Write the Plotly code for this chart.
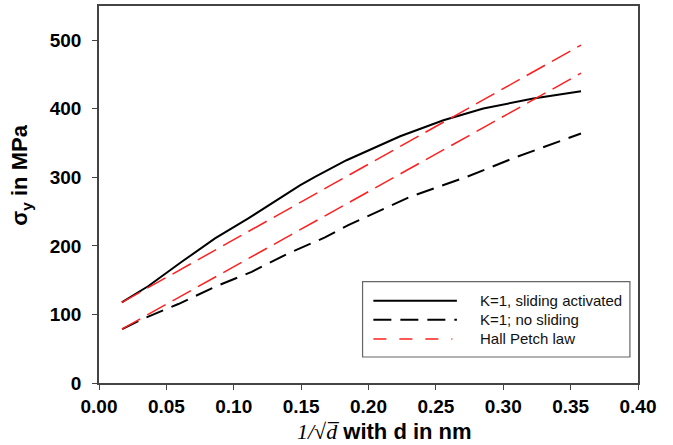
import plotly.graph_objects as go

# ---- data ----
solid_x = [0.0169, 0.0367, 0.0614, 0.0861, 0.1108, 0.1281, 0.1494, 0.1603, 0.1837,
           0.2235, 0.2556, 0.2852, 0.3223, 0.3577]
solid_y = [117.6, 141.5, 176.8, 210.9, 240.1, 262.0, 288.6, 300.7, 325.0,
           360.0, 383.4, 400.4, 415.0, 425.7]

dashed_x = [0.0172, 0.0317, 0.0589, 0.0861, 0.1133, 0.1405, 0.1677, 0.1850,
            0.2309, 0.2729, 0.3100, 0.3577]
dashed_y = [78.7, 92.9, 115.2, 140.4, 162.2, 189.1, 212.4, 230.3,
            271.6, 300.7, 329.9, 364.0]

hp_x = [0.0170, 0.3577]
hp_upper_y = [117.6, 493.0]
hp_lower_y = [78.7, 452.0]

series_names = ["K=1, sliding activated", "K=1; no sliding", "Hall Petch law"]
x_ticks = [0.00, 0.05, 0.10, 0.15, 0.20, 0.25, 0.30, 0.35, 0.40]
y_ticks = [0, 100, 200, 300, 400, 500]

RED = "#ff1f1f"
BLACK_DASH = "18px,9px"
RED_DASH = "21px,8px"
SANS = "Arial, Liberation Sans"

fig = go.Figure()
fig.add_trace(go.Scatter(x=solid_x, y=solid_y, mode="lines", name=series_names[0],
                         line=dict(color="black", width=2), showlegend=False))
fig.add_trace(go.Scatter(x=dashed_x, y=dashed_y, mode="lines", name=series_names[1],
                         line=dict(color="black", width=2, dash=BLACK_DASH), showlegend=False))
fig.add_trace(go.Scatter(x=hp_x, y=hp_upper_y, mode="lines", name=series_names[2],
                         line=dict(color=RED, width=1.5, dash=RED_DASH), showlegend=False))
fig.add_trace(go.Scatter(x=hp_x, y=hp_lower_y, mode="lines", name=series_names[2],
                         line=dict(color=RED, width=1.5, dash=RED_DASH), showlegend=False))

# ---- hand-drawn legend box (paper coordinates) ----
fig.add_shape(type="rect", xref="paper", yref="paper", x0=0.489, x1=0.985, y0=0.069, y1=0.269,
              line=dict(color="#666666", width=1.2), fillcolor="white", layer="above")
legend_rows = [0.218, 0.168, 0.117]
legend_styles = [dict(color="black", width=2),
                 dict(color="black", width=2, dash=BLACK_DASH),
                 dict(color=RED, width=1.5, dash="13px,13px,13px,13px,13px,13px,1px,40px")]
for name, yy, st in zip(series_names, legend_rows, legend_styles):
    fig.add_shape(type="line", xref="paper", yref="paper", x0=0.509, x1=0.664, y0=yy, y1=yy,
                  line=st, layer="above")
    fig.add_annotation(xref="paper", yref="paper", x=0.703, y=yy, text=name, showarrow=False,
                       xanchor="left", yanchor="middle",
                       font=dict(family=SANS, size=15, color="#111111"))

# ---- axis titles ----
fig.add_annotation(xref="paper", yref="paper", x=0.529, y=-0.129, showarrow=False,
                   xanchor="center", yanchor="middle",
                   text="<span style=\"font-family:'Liberation Serif';font-weight:normal\"><i>1/√d\u0305</i></span>"
                        " with d in nm",
                   font=dict(family=SANS, size=22, color="black", weight="bold"))
fig.add_annotation(xref="paper", yref="paper", x=-0.145, y=0.552, showarrow=False,
                   xanchor="center", yanchor="middle", textangle=-90,
                   text="σ<sub>y</sub> in MPa",
                   font=dict(family=SANS, size=22, color="black", weight="bold"))

axis_common = dict(showline=True, mirror=True, linecolor="#444444", linewidth=1.5,
                   showgrid=False, zeroline=False, ticks="outside", tickcolor="#444444",
                   tickwidth=1.2, ticklen=5,
                   tickfont=dict(family=SANS, size=19, color="black", weight="bold"))

fig.update_layout(
    width=673, height=445,
    margin=dict(l=98.5, r=35, t=6, b=61.7, autoexpand=False),
    plot_bgcolor="white", paper_bgcolor="white",
    xaxis=dict(range=[0, 0.40], tickvals=x_ticks, tickformat=".2f", **axis_common),
    yaxis=dict(range=[0, 550], tickvals=y_ticks, ticklabelstandoff=7, **axis_common),
    showlegend=False,
)

fig.write_html("out.html", config={"displayModeBar": False},
               post_script="document.body.style.margin='0';")
